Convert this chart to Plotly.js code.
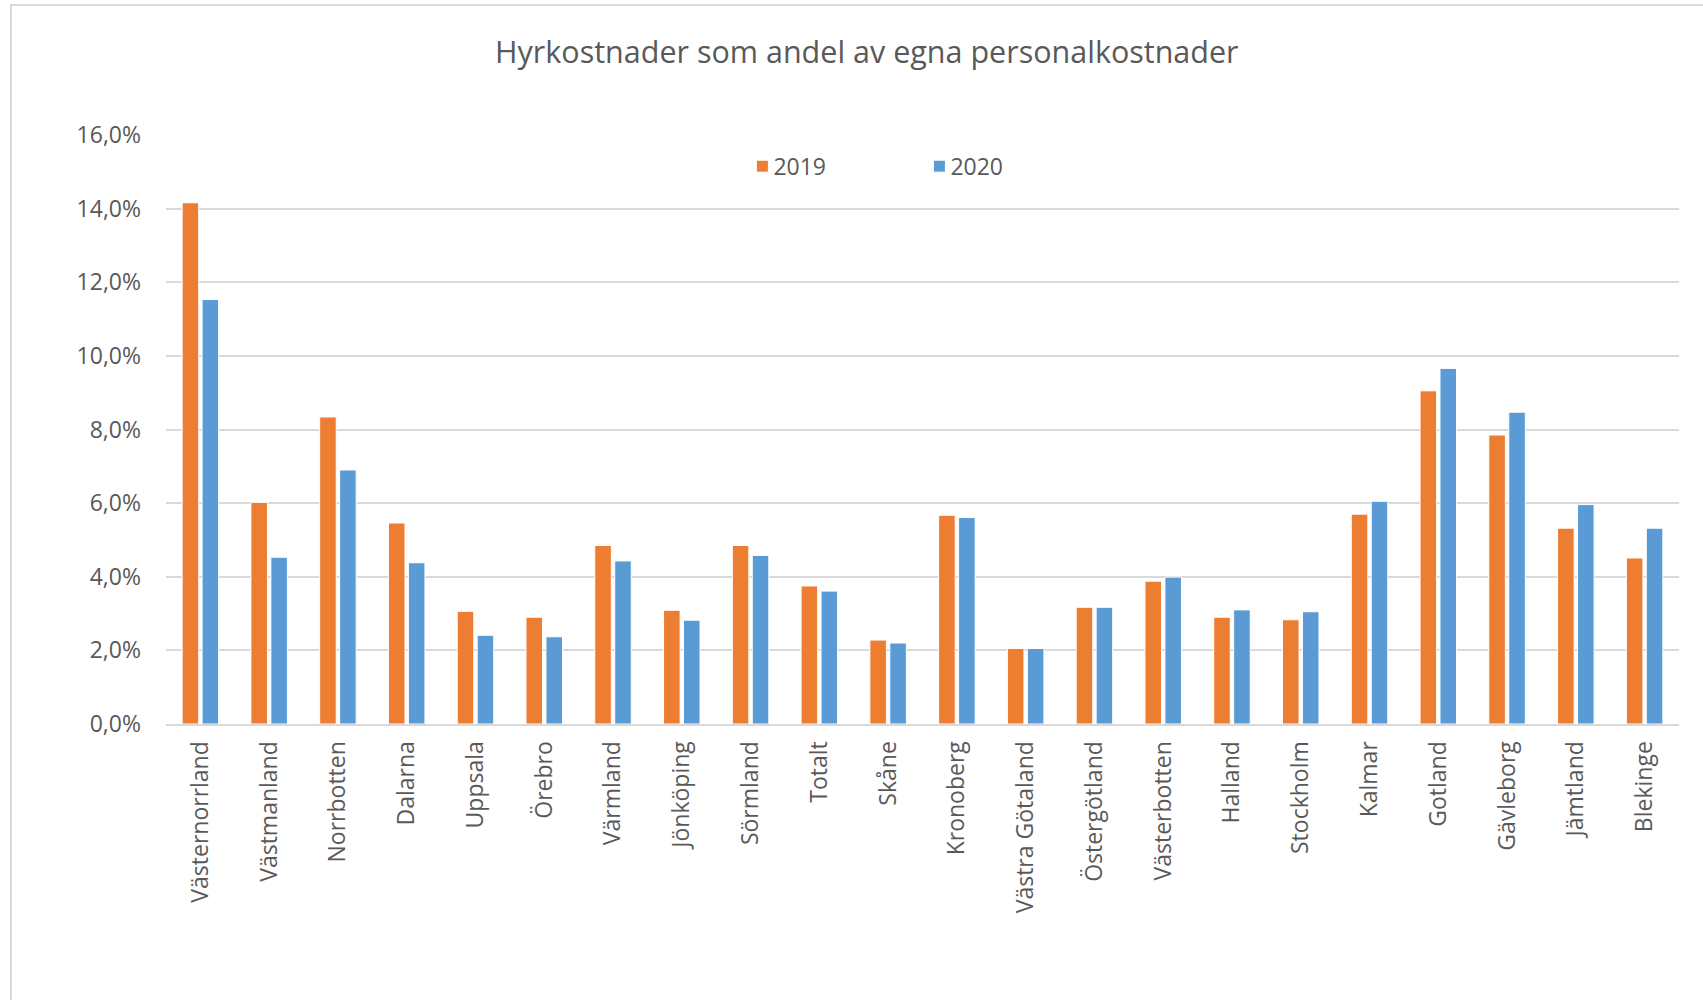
<!DOCTYPE html>
<html>
<head>
<meta charset="utf-8">
<script src="https://cdn.plot.ly/plotly-3.0.1.min.js"></script>
<style>
  html, body { margin: 0; padding: 0; overflow: hidden; background: #fff; }
  #frame { position: absolute; left: 10px; top: 4px; width: 2000px; height: 2000px;
           border: 2px solid #d9d9d9; pointer-events: none; z-index: 5; }
  #chart { position: absolute; left: 0; top: 0; width: 1703px; height: 1000px; }
</style>
</head>
<body>
<div id="chart"></div>
<div id="frame"></div>
<script>
const categories = ["Västernorrland","Västmanland","Norrbotten","Dalarna","Uppsala","Örebro","Värmland","Jönköping","Sörmland","Totalt","Skåne","Kronoberg","Västra Götaland","Östergötland","Västerbotten","Halland","Stockholm","Kalmar","Gotland","Gävleborg","Jämtland","Blekinge"];
const values2019 = [14.16, 6.02, 8.34, 5.46, 3.06, 2.90, 4.85, 3.09, 4.85, 3.75, 2.28, 5.67, 2.05, 3.17, 3.88, 2.90, 2.83, 5.70, 9.05, 7.85, 5.32, 4.51];
const values2020 = [11.53, 4.53, 6.90, 4.38, 2.41, 2.37, 4.43, 2.82, 4.58, 3.61, 2.20, 5.61, 2.05, 3.17, 3.99, 3.10, 3.05, 6.05, 9.66, 8.47, 5.96, 5.32];
const seriesNames = ["2019", "2020"];
const yTicks = [0, 2, 4, 6, 8, 10, 12, 14, 16];
const yTickLabels = ["0,0%", "2,0%", "4,0%", "6,0%", "8,0%", "10,0%", "12,0%", "14,0%", "16,0%"];

const textColor = "#595959";
const fontFam = "'Open Sans', 'Noto Sans', sans-serif";

const traces = [
  { type: "bar", name: seriesNames[0], x: categories, y: values2019,
    marker: { color: "#ED7D31", line: { color: "#ffffff", width: 1 } } },
  { type: "bar", name: seriesNames[1], x: categories, y: values2020,
    marker: { color: "#5B9BD5", line: { color: "#ffffff", width: 1 } } }
];

const layout = {
  width: 1703, height: 1000,
  paper_bgcolor: "#ffffff", plot_bgcolor: "#ffffff",
  margin: { l: 166, r: 24, t: 135, b: 276, pad: 0 },
  font: { family: fontFam, color: textColor, size: 23 },
  title: {
    text: "Hyrkostnader som andel av egna personalkostnader",
    font: { family: fontFam, size: 30.5, color: textColor },
    x: 0.509, xref: "container", xanchor: "center",
    y: 0.948, yref: "container", yanchor: "middle"
  },
  barmode: "group",
  bargap: 0.42,
  bargroupgap: 0.17,
  showlegend: true,
  legend: {
    orientation: "h",
    x: (733 - 166) / 1512, xanchor: "left", xref: "paper",
    y: 0.947, yanchor: "middle", yref: "paper",
    font: { family: fontFam, size: 23, color: textColor },
    bgcolor: "rgba(0,0,0,0)",
    entrywidth: 132, entrywidthmode: "pixels",
    traceorder: "normal"
  },
  xaxis: {
    type: "category",
    tickangle: -90,
    tickfont: { family: fontFam, size: 23, color: textColor },
    showgrid: false,
    showline: true, linecolor: "#d9d9d9", linewidth: 2,
    ticks: "",
    ticklabelstandoff: 6,
    fixedrange: true
  },
  yaxis: {
    range: [0, 16],
    tickmode: "array",
    tickvals: yTicks,
    ticktext: yTickLabels,
    tickfont: { family: fontFam, size: 23, color: textColor },
    showgrid: true, gridcolor: "#d9d9d9", gridwidth: 2,
    zeroline: false,
    showline: false,
    ticks: "",
    ticklabelstandoff: 24,
    fixedrange: true
  }
};

Plotly.newPlot("chart", traces, layout, { displayModeBar: false, staticPlot: true }).then(function () {
  // move legend swatches closer to their labels, as in the reference
  document.querySelectorAll('.legend .legendsymbols').forEach(function (g) {
    const t = g.getAttribute('transform') || '';
    g.setAttribute('transform', t + ' translate(9,0)');
  });
});
</script>
</body>
</html>
